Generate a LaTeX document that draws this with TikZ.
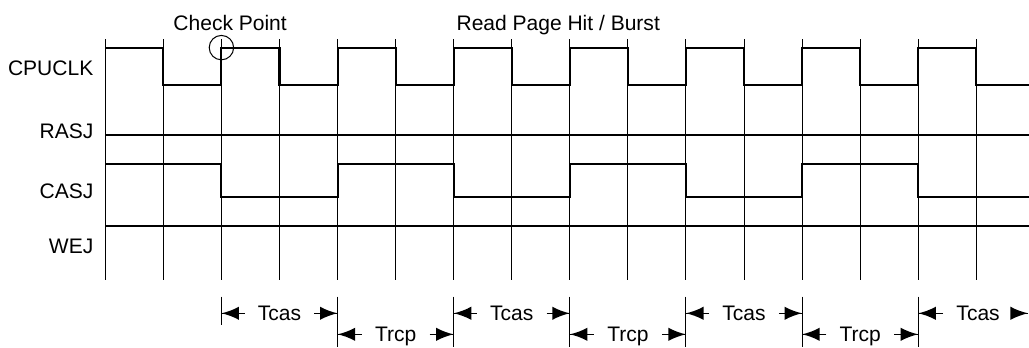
\documentclass[tikz,border=0pt]{standalone}
\usepackage{fontspec}
\setmainfont{Liberation Sans}
\usetikzlibrary{arrows}
\usetikzlibrary{decorations.markings}
\tikzset{->/.style = {decoration={markings,
                                  mark=at position 1 with {\arrow[scale=2]{latex}}},
                      postaction={decorate}}}
\tikzset{wave/.style = {line width=1pt}}
\tikzset{gridline/.style = {line width=0.5pt}}
\tikzset{sig/.style = {anchor=east}}

\begin{document}
\begin{tikzpicture}[font=\fontsize{10.3}{12}\selectfont, text depth=0pt, line width=0.5pt]
    \useasboundingbox (-1.813, -5.976) rectangle (15.907, 0);

    \node (chk) at (2.15, -0.39) {Check Point};
    \node (burst) at (7.8, -0.4) {Read Page Hit / Burst};

    \node [sig] (cpuclk) at (-0.08, -1.18) {CPUCLK};
    \node [sig] (rasj) at (-0.08, -2.26) {RASJ};
    \node [sig] (casj) at (-0.08, -3.30) {CASJ};
    \node [sig] (wej) at (-0.08, -4.24) {WEJ};

    \foreach \x in {0,...,15}
      \draw [gridline] (\x, -0.68) -- (\x, -4.82);

    \draw [wave] (0, -0.82) \foreach \k in {0,...,6} { -| (2*\k+1, -1.46) -| (2*\k+2, -0.82) }
                 -| (15, -1.46) -- (15.907, -1.46);
    \draw [wave] (0, -2.32) -- (15.907, -2.32);
    \draw [wave] (0, -2.82) \foreach \k in {0,...,2} { -| (4*\k+2, -3.40) -| (4*\k+4, -2.82) }
                 -| (14, -3.40) -- (15.907, -3.40);
    \draw [wave] (0, -3.90) -- (15.907, -3.90);

    \node [circle, draw, minimum size=0.42cm, inner sep=0] (ckpt) at (2, -0.82) {};

    % Tcas / Trcp
    \coordinate (b2) at (2, -5.11);
    \foreach \x in {4,6,...,14}
      \coordinate (b\x) at (\x, -5.11);
    \coordinate (b16) at (15.89, -5.11);
    \draw (b2) -- ++(0, -0.49);
    \foreach \x in {4,6,...,14}
      \draw (b\x) -- ++(0, -0.87);

    \node [inner xsep=0.22cm] (tcas1) at (3, -5.395) {Tcas};
    \node [inner xsep=0.22cm] (trcp1) at (5, -5.757) {Trcp};
    \node [inner xsep=0.22cm] (tcas2) at (7, -5.395) {Tcas};
    \node [inner xsep=0.22cm] (trcp2) at (9, -5.757) {Trcp};
    \node [inner xsep=0.22cm] (tcas3) at (11, -5.395) {Tcas};
    \node [inner xsep=0.22cm] (trcp3) at (13, -5.757) {Trcp};
    \node [inner xsep=0.22cm] (tcas4) at (15.03, -5.395) {Tcas};

    \draw [->] (tcas1.west) -- (tcas1.west -| b2);
    \draw [->] (tcas1.east) -- (tcas1.east -| b4);
    \draw [->] (trcp1.west) -- (trcp1.west -| b4);
    \draw [->] (trcp1.east) -- (trcp1.east -| b6);
    \draw [->] (tcas2.west) -- (tcas2.west -| b6);
    \draw [->] (tcas2.east) -- (tcas2.east -| b8);
    \draw [->] (trcp2.west) -- (trcp2.west -| b8);
    \draw [->] (trcp2.east) -- (trcp2.east -| b10);
    \draw [->] (tcas3.west) -- (tcas3.west -| b10);
    \draw [->] (tcas3.east) -- (tcas3.east -| b12);
    \draw [->] (trcp3.west) -- (trcp3.west -| b12);
    \draw [->] (trcp3.east) -- (trcp3.east -| b14);
    \draw [->] (tcas4.west) -- (tcas4.west -| b14);
    \draw [->] (tcas4.east) -- (tcas4.east -| b16);
  \end{tikzpicture}
\end{document}
